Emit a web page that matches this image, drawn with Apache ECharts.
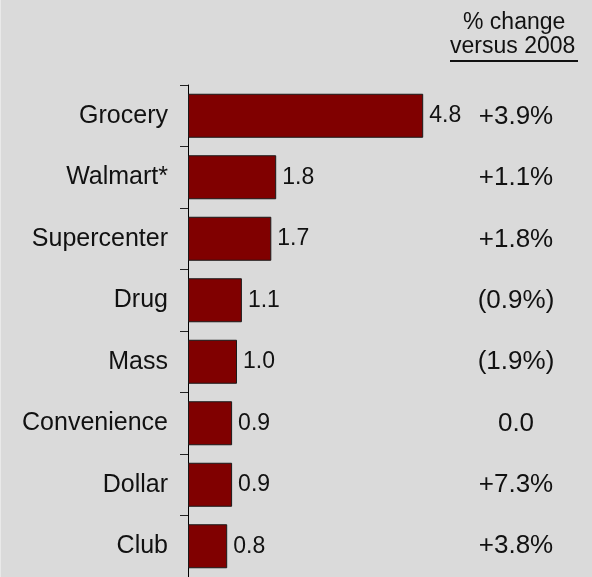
<!DOCTYPE html>
<html>
<head>
<meta charset="utf-8">
<script src="https://cdn.jsdelivr.net/npm/echarts@6/dist/echarts.min.js"></script>
<style>
  html, body { margin: 0; padding: 0; background: #dadada; }
  #chart { width: 592px; height: 577px; border-left: 1px solid #e9e9e9; box-sizing: border-box; }
</style>
</head>
<body>
<div id="chart"></div>
<script>
// Channel sales (index values) and change versus 2008
const categories = ['Grocery', 'Walmart*', 'Supercenter', 'Drug', 'Mass', 'Convenience', 'Dollar', 'Club'];
const values = [4.8, 1.8, 1.7, 1.1, 1.0, 0.9, 0.9, 0.8];
const changeLabels = ['+3.9%', '+1.1%', '+1.8%', '(0.9%)', '(1.9%)', '0.0', '+7.3%', '+3.8%'];
const headerLines = ['% change', 'versus 2008'];

const FONT = '"Liberation Sans", Arial, sans-serif';
const chart = echarts.init(document.getElementById('chart'), null, { renderer: 'canvas' });

chart.setOption({
  backgroundColor: '#dadada',
  animation: false,
  grid: [
    // bar panel
    { left: 187, top: 85, width: 294, height: 498, containLabel: false },
    // column of percent changes, spaced a little wider than the bars
    { left: 187, top: 86, width: 294, height: 504, containLabel: false }
  ],
  xAxis: [
    { type: 'value', gridIndex: 0, min: 0, max: 6, show: false },
    { type: 'value', gridIndex: 1, min: 0, max: 6, show: false }
  ],
  yAxis: [
    {
      type: 'category',
      gridIndex: 0,
      data: categories,
      inverse: true,
      axisLine: { show: true, lineStyle: { color: '#000', width: 1 } },
      axisTick: { show: true, length: 8, inside: false, lineStyle: { color: '#222', width: 1 } },
      axisLabel: { margin: 20, fontSize: 25, color: '#111', fontFamily: FONT }
    },
    {
      type: 'category',
      gridIndex: 1,
      data: changeLabels,
      inverse: true,
      position: 'right',
      axisLine: { show: false },
      axisTick: { show: false },
      axisLabel: { margin: 34, align: 'center', fontSize: 26, color: '#111', fontFamily: FONT }
    }
  ],
  series: [{
    type: 'bar',
    xAxisIndex: 0,
    yAxisIndex: 0,
    data: values,
    barWidth: 44,
    itemStyle: { color: '#800000', borderColor: '#1a1a1a', borderWidth: 1 },
    label: {
      show: true, position: 'right', distance: 6,
      fontSize: 23, color: '#111', fontFamily: FONT,
      formatter: p => p.value.toFixed(1)
    }
  }],
  graphic: [
    {
      type: 'text', left: 462, top: 11,
      style: { text: headerLines[0], fontSize: 23, fill: '#111', fontFamily: FONT }
    },
    {
      type: 'text', left: 449, top: 35,
      style: { text: headerLines[1], fontSize: 23, fill: '#111', fontFamily: FONT }
    },
    {
      type: 'rect', shape: { x: 449, y: 60, width: 128, height: 2 },
      style: { fill: '#111' }
    }
  ]
});
</script>
</body>
</html>
